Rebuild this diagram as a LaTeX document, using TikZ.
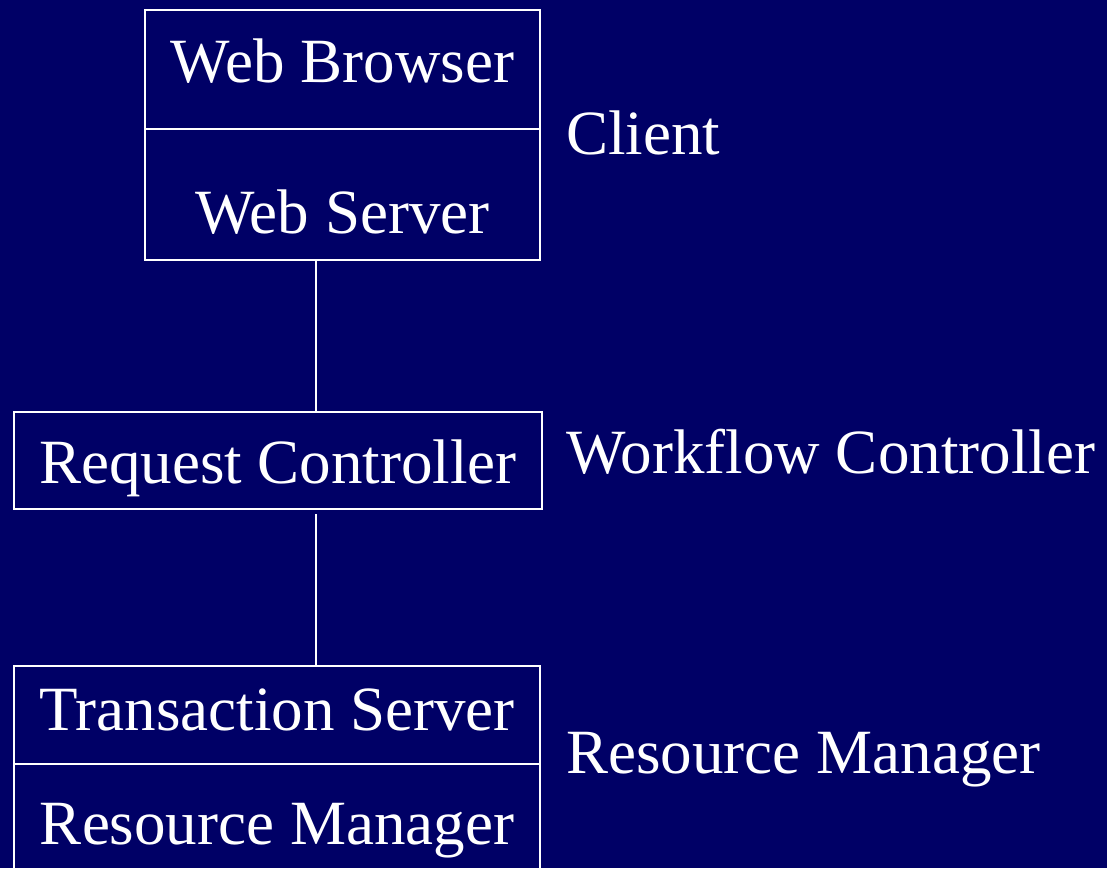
\documentclass[tikz,border=0pt]{standalone}
\usepackage{fontspec}
\setmainfont{Liberation Serif}
\usetikzlibrary{positioning}

\definecolor{slidebg}{HTML}{000066}

\begin{document}
\begin{tikzpicture}[x=0.5pt,y=-0.5pt,
    every node/.style={text=white, font=\fontsize{31.5}{36}\selectfont},
    part/.style={draw=white, line width=1pt, inner sep=0pt, outer sep=0pt, anchor=north west},
    layer/.style={anchor=base west, inner sep=0pt}]

      \clip (0,0) rectangle (1107,868);
      \fill[color=slidebg] (0,0) rectangle (1107,868);

      \node[part, minimum width=197.5pt, text height=36pt, text depth=23.5pt] (browser) at (145,10) {Web Browser};
      \node[part, anchor=north, minimum width=197.5pt, text height=52pt, text depth=13.5pt, below=0pt of browser] (server) {Web Server};

      \node[part, minimum width=264pt, text height=35.5pt, text depth=13pt] (request) at (14,412) {Request Controller};

      \node[part, minimum width=263pt, text height=32pt, text depth=17pt] (transaction) at (14,666) {Transaction Server};
      \node[part, anchor=north, minimum width=263pt, text height=40pt, text depth=23pt, below=0pt of transaction] (resource) {Resource Manager};

      \node[layer] (client) at (566,154) {Client};
      \node[layer] (workflow) at (566,473) {Workflow Controller};
      \node[layer] (manager) at (566,773) {Resource Manager};

      \coordinate (link) at (316,0);
      \draw[white, line width=1pt] (server.south -| link) -- (request.north -| link);
      \draw[white, line width=1pt, shorten <=2.5pt] (request.south -| link) -- (transaction.north -| link);
    \end{tikzpicture}
\end{document}
